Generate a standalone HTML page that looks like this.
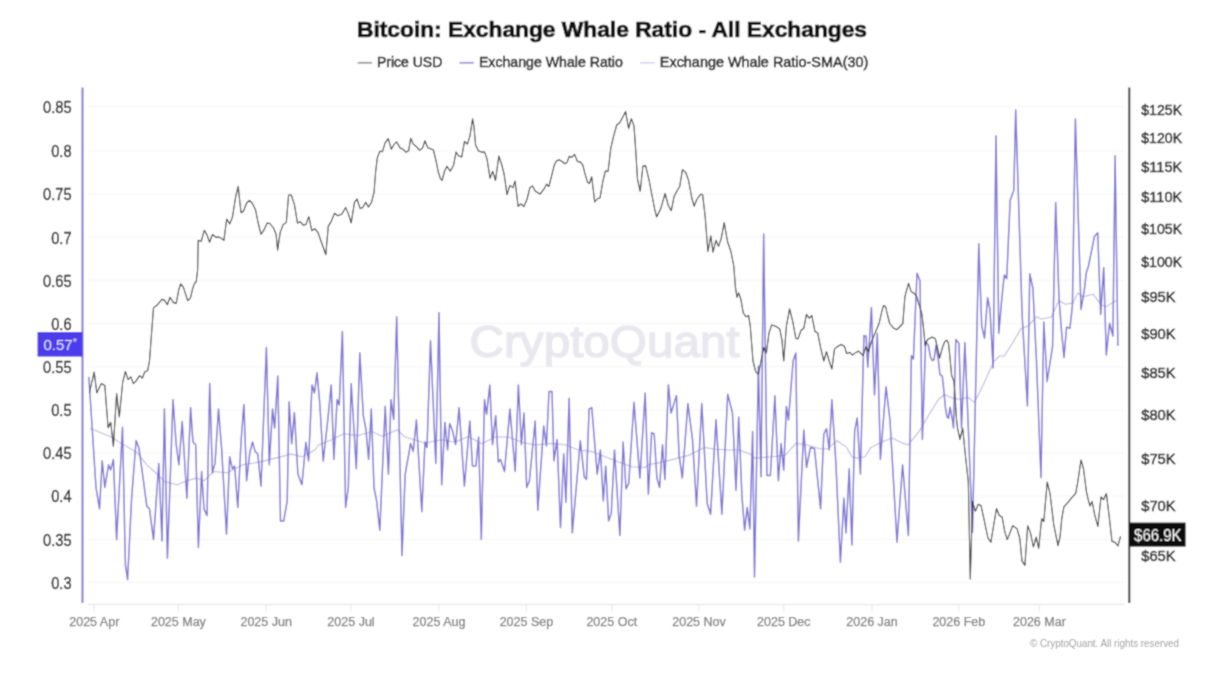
<!DOCTYPE html><html><head><meta charset="utf-8"><style>html,body{margin:0;padding:0;background:#fff;}svg{display:block}text{font-family:"Liberation Sans",Arial,sans-serif}</style></head><body>
<svg width="1226" height="673" viewBox="0 0 1226 673">
<defs><filter id="bl" x="0" y="0" width="100%" height="100%"><feConvolveMatrix order="3" kernelMatrix="1 2 1 2 8 2 1 2 1" divisor="20" edgeMode="duplicate"/></filter></defs><g filter="url(#bl)">
<rect x="0" y="0" width="1226" height="673" fill="#ffffff"/>
<text x="612" y="36.6" text-anchor="middle" font-size="21.5" font-weight="bold" fill="#111" stroke="#111" stroke-width="0.7" textLength="510" lengthAdjust="spacingAndGlyphs">Bitcoin: Exchange Whale Ratio - All Exchanges</text>
<line x1="357.7" y1="62.8" x2="372" y2="62.8" stroke="#999" stroke-width="1.8"/>
<text x="376.9" y="66.8" font-size="14" fill="#1e1e1e" stroke="#1e1e1e" stroke-width="0.5">Price USD</text>
<line x1="459.5" y1="62.8" x2="473.8" y2="62.8" stroke="#9F94E2" stroke-width="1.8"/>
<text x="478.9" y="66.8" font-size="14" fill="#1e1e1e" stroke="#1e1e1e" stroke-width="0.5" textLength="143.9" lengthAdjust="spacingAndGlyphs">Exchange Whale Ratio</text>
<line x1="640" y1="62.8" x2="654.4" y2="62.8" stroke="#D6D2F0" stroke-width="1.5"/>
<text x="659.8" y="66.8" font-size="14" fill="#1e1e1e" stroke="#1e1e1e" stroke-width="0.5" textLength="208.5" lengthAdjust="spacingAndGlyphs">Exchange Whale Ratio-SMA(30)</text>
<line x1="88" y1="106.6" x2="1124.5" y2="106.6" stroke="#F7F7F7" stroke-width="1.3"/>
<line x1="88" y1="150.8" x2="1124.5" y2="150.8" stroke="#F7F7F7" stroke-width="1.3"/>
<line x1="88" y1="194.0" x2="1124.5" y2="194.0" stroke="#F7F7F7" stroke-width="1.3"/>
<line x1="88" y1="237.2" x2="1124.5" y2="237.2" stroke="#F7F7F7" stroke-width="1.3"/>
<line x1="88" y1="280.3" x2="1124.5" y2="280.3" stroke="#F7F7F7" stroke-width="1.3"/>
<line x1="88" y1="323.5" x2="1124.5" y2="323.5" stroke="#F7F7F7" stroke-width="1.3"/>
<line x1="88" y1="366.6" x2="1124.5" y2="366.6" stroke="#F7F7F7" stroke-width="1.3"/>
<line x1="88" y1="409.8" x2="1124.5" y2="409.8" stroke="#F7F7F7" stroke-width="1.3"/>
<line x1="88" y1="452.9" x2="1124.5" y2="452.9" stroke="#F7F7F7" stroke-width="1.3"/>
<line x1="88" y1="496.1" x2="1124.5" y2="496.1" stroke="#F7F7F7" stroke-width="1.3"/>
<line x1="88" y1="539.3" x2="1124.5" y2="539.3" stroke="#F7F7F7" stroke-width="1.3"/>
<line x1="88" y1="582.4" x2="1124.5" y2="582.4" stroke="#F7F7F7" stroke-width="1.3"/>
<text x="469.6" y="356.9" font-size="45" fill="#E8E8EE" stroke="#E8E8EE" stroke-width="1.4" textLength="270" lengthAdjust="spacingAndGlyphs">CryptoQuant</text>
<line x1="88" y1="604.5" x2="1124.3" y2="604.5" stroke="#EAEAEA" stroke-width="1.4"/>
<line x1="94.3" y1="604.5" x2="94.3" y2="611.5" stroke="#EBEBEB" stroke-width="1.3"/>
<text x="94.3" y="626.4" text-anchor="middle" font-size="12.5" fill="#7a7a7a" stroke="#7a7a7a" stroke-width="0.25">2025 Apr</text>
<line x1="178.4" y1="604.5" x2="178.4" y2="611.5" stroke="#EBEBEB" stroke-width="1.3"/>
<text x="178.4" y="626.4" text-anchor="middle" font-size="12.5" fill="#7a7a7a" stroke="#7a7a7a" stroke-width="0.25">2025 May</text>
<line x1="266.2" y1="604.5" x2="266.2" y2="611.5" stroke="#EBEBEB" stroke-width="1.3"/>
<text x="266.2" y="626.4" text-anchor="middle" font-size="12.5" fill="#7a7a7a" stroke="#7a7a7a" stroke-width="0.25">2025 Jun</text>
<line x1="351" y1="604.5" x2="351" y2="611.5" stroke="#EBEBEB" stroke-width="1.3"/>
<text x="351" y="626.4" text-anchor="middle" font-size="12.5" fill="#7a7a7a" stroke="#7a7a7a" stroke-width="0.25">2025 Jul</text>
<line x1="439" y1="604.5" x2="439" y2="611.5" stroke="#EBEBEB" stroke-width="1.3"/>
<text x="439" y="626.4" text-anchor="middle" font-size="12.5" fill="#7a7a7a" stroke="#7a7a7a" stroke-width="0.25">2025 Aug</text>
<line x1="526.4" y1="604.5" x2="526.4" y2="611.5" stroke="#EBEBEB" stroke-width="1.3"/>
<text x="526.4" y="626.4" text-anchor="middle" font-size="12.5" fill="#7a7a7a" stroke="#7a7a7a" stroke-width="0.25">2025 Sep</text>
<line x1="611.8" y1="604.5" x2="611.8" y2="611.5" stroke="#EBEBEB" stroke-width="1.3"/>
<text x="611.8" y="626.4" text-anchor="middle" font-size="12.5" fill="#7a7a7a" stroke="#7a7a7a" stroke-width="0.25">2025 Oct</text>
<line x1="699" y1="604.5" x2="699" y2="611.5" stroke="#EBEBEB" stroke-width="1.3"/>
<text x="699" y="626.4" text-anchor="middle" font-size="12.5" fill="#7a7a7a" stroke="#7a7a7a" stroke-width="0.25">2025 Nov</text>
<line x1="783.8" y1="604.5" x2="783.8" y2="611.5" stroke="#EBEBEB" stroke-width="1.3"/>
<text x="783.8" y="626.4" text-anchor="middle" font-size="12.5" fill="#7a7a7a" stroke="#7a7a7a" stroke-width="0.25">2025 Dec</text>
<line x1="872" y1="604.5" x2="872" y2="611.5" stroke="#EBEBEB" stroke-width="1.3"/>
<text x="872" y="626.4" text-anchor="middle" font-size="12.5" fill="#7a7a7a" stroke="#7a7a7a" stroke-width="0.25">2026 Jan</text>
<line x1="958.8" y1="604.5" x2="958.8" y2="611.5" stroke="#EBEBEB" stroke-width="1.3"/>
<text x="958.8" y="626.4" text-anchor="middle" font-size="12.5" fill="#7a7a7a" stroke="#7a7a7a" stroke-width="0.25">2026 Feb</text>
<line x1="1039.4" y1="604.5" x2="1039.4" y2="611.5" stroke="#EBEBEB" stroke-width="1.3"/>
<text x="1039.4" y="626.4" text-anchor="middle" font-size="12.5" fill="#7a7a7a" stroke="#7a7a7a" stroke-width="0.25">2026 Mar</text>
<line x1="82.5" y1="87.5" x2="82.5" y2="603" stroke="#7A6EDC" stroke-width="1.9"/>
<line x1="1129.3" y1="87.5" x2="1129.3" y2="603" stroke="#262626" stroke-width="1.9"/>
<text x="71.6" y="112.9" text-anchor="end" font-size="15.8" fill="#222" stroke="#222" stroke-width="0.35" textLength="28.6" lengthAdjust="spacingAndGlyphs">0.85</text>
<text x="71.6" y="157.1" text-anchor="end" font-size="15.8" fill="#222" stroke="#222" stroke-width="0.35" textLength="20.4" lengthAdjust="spacingAndGlyphs">0.8</text>
<text x="71.6" y="200.3" text-anchor="end" font-size="15.8" fill="#222" stroke="#222" stroke-width="0.35" textLength="28.6" lengthAdjust="spacingAndGlyphs">0.75</text>
<text x="71.6" y="243.5" text-anchor="end" font-size="15.8" fill="#222" stroke="#222" stroke-width="0.35" textLength="20.4" lengthAdjust="spacingAndGlyphs">0.7</text>
<text x="71.6" y="286.6" text-anchor="end" font-size="15.8" fill="#222" stroke="#222" stroke-width="0.35" textLength="28.6" lengthAdjust="spacingAndGlyphs">0.65</text>
<text x="71.6" y="329.8" text-anchor="end" font-size="15.8" fill="#222" stroke="#222" stroke-width="0.35" textLength="20.4" lengthAdjust="spacingAndGlyphs">0.6</text>
<text x="71.6" y="372.9" text-anchor="end" font-size="15.8" fill="#222" stroke="#222" stroke-width="0.35" textLength="28.6" lengthAdjust="spacingAndGlyphs">0.55</text>
<text x="71.6" y="416.1" text-anchor="end" font-size="15.8" fill="#222" stroke="#222" stroke-width="0.35" textLength="20.4" lengthAdjust="spacingAndGlyphs">0.5</text>
<text x="71.6" y="459.2" text-anchor="end" font-size="15.8" fill="#222" stroke="#222" stroke-width="0.35" textLength="28.6" lengthAdjust="spacingAndGlyphs">0.45</text>
<text x="71.6" y="502.4" text-anchor="end" font-size="15.8" fill="#222" stroke="#222" stroke-width="0.35" textLength="20.4" lengthAdjust="spacingAndGlyphs">0.4</text>
<text x="71.6" y="545.6" text-anchor="end" font-size="15.8" fill="#222" stroke="#222" stroke-width="0.35" textLength="28.6" lengthAdjust="spacingAndGlyphs">0.35</text>
<text x="71.6" y="588.7" text-anchor="end" font-size="15.8" fill="#222" stroke="#222" stroke-width="0.35" textLength="20.4" lengthAdjust="spacingAndGlyphs">0.3</text>
<text x="1141.2" y="114.8" font-size="15" fill="#1e1e1e" stroke="#1e1e1e" stroke-width="0.45" textLength="41" lengthAdjust="spacingAndGlyphs">$125K</text>
<text x="1141.2" y="142.7" font-size="15" fill="#1e1e1e" stroke="#1e1e1e" stroke-width="0.45" textLength="41" lengthAdjust="spacingAndGlyphs">$120K</text>
<text x="1141.2" y="171.7" font-size="15" fill="#1e1e1e" stroke="#1e1e1e" stroke-width="0.45" textLength="41" lengthAdjust="spacingAndGlyphs">$115K</text>
<text x="1141.2" y="202.1" font-size="15" fill="#1e1e1e" stroke="#1e1e1e" stroke-width="0.45" textLength="41" lengthAdjust="spacingAndGlyphs">$110K</text>
<text x="1141.2" y="233.9" font-size="15" fill="#1e1e1e" stroke="#1e1e1e" stroke-width="0.45" textLength="41" lengthAdjust="spacingAndGlyphs">$105K</text>
<text x="1141.2" y="267.2" font-size="15" fill="#1e1e1e" stroke="#1e1e1e" stroke-width="0.45" textLength="41" lengthAdjust="spacingAndGlyphs">$100K</text>
<text x="1141.2" y="302.2" font-size="15" fill="#1e1e1e" stroke="#1e1e1e" stroke-width="0.45" textLength="34.5" lengthAdjust="spacingAndGlyphs">$95K</text>
<text x="1141.2" y="339.2" font-size="15" fill="#1e1e1e" stroke="#1e1e1e" stroke-width="0.45" textLength="34.5" lengthAdjust="spacingAndGlyphs">$90K</text>
<text x="1141.2" y="378.2" font-size="15" fill="#1e1e1e" stroke="#1e1e1e" stroke-width="0.45" textLength="34.5" lengthAdjust="spacingAndGlyphs">$85K</text>
<text x="1141.2" y="419.6" font-size="15" fill="#1e1e1e" stroke="#1e1e1e" stroke-width="0.45" textLength="34.5" lengthAdjust="spacingAndGlyphs">$80K</text>
<text x="1141.2" y="463.7" font-size="15" fill="#1e1e1e" stroke="#1e1e1e" stroke-width="0.45" textLength="34.5" lengthAdjust="spacingAndGlyphs">$75K</text>
<text x="1141.2" y="510.8" font-size="15" fill="#1e1e1e" stroke="#1e1e1e" stroke-width="0.45" textLength="34.5" lengthAdjust="spacingAndGlyphs">$70K</text>
<text x="1141.2" y="561.4" font-size="15" fill="#1e1e1e" stroke="#1e1e1e" stroke-width="0.45" textLength="34.5" lengthAdjust="spacingAndGlyphs">$65K</text>
<polyline points="89.9,428.2 110.7,436.7 121.4,443.4 137.4,452.8 146.8,464.8 158.8,475.5 164.2,481.6 177.5,484.8 186.9,480.8 196.2,478.1 204.0,480.8 213.7,471.5 227.1,472.8 243.1,464.8 259.1,462.1 275.2,458.1 291.2,454.1 301.9,456.8 315.0,450.0 318.4,445.0 331.7,439.7 343.7,433.8 358.4,435.6 371.8,431.4 382.5,436.4 397.2,429.7 405.0,437.0 425.0,443.0 441.7,439.7 455.1,442.3 468.4,436.4 481.8,443.7 495.2,437.0 508.5,437.0 521.9,442.3 535.0,445.0 551.7,443.4 565.1,444.7 578.4,450.0 591.8,451.4 605.2,456.8 618.5,462.1 631.9,466.7 645.0,467.5 648.4,464.8 661.7,462.1 675.1,458.9 688.4,455.4 704.5,447.4 715.2,449.3 728.5,450.0 739.2,450.0 749.9,454.1 755.0,458.1 771.7,456.8 785.1,455.4 795.8,443.4 806.5,444.7 819.8,448.7 827.8,448.7 837.2,440.7 846.6,447.4 851.9,456.8 857.2,458.1 865.0,456.8 871.0,447.4 881.7,442.0 892.4,438.0 903.1,443.4 908.4,444.7 919.1,431.4 930.6,412.0 938.4,399.5 944.6,394.5 952.4,398.0 960.2,399.5 968.0,397.2 974.5,402.4 984.0,383.3 993.6,361.9 999.5,356.0 1004.3,356.0 1012.6,342.9 1021.0,328.6 1028.1,326.2 1036.4,316.7 1041.2,319.0 1051.4,317.0 1059.0,300.5 1065.3,304.3 1072.9,303.1 1077.9,293.0 1083.0,296.7 1093.1,294.2 1100.7,304.3 1105.8,306.9 1115.9,300.5" fill="none" stroke="#BDB7E0" stroke-width="1.1" stroke-linejoin="round"/>
<polyline points="88.8,376.9 89.9,393.0 96.0,487.5 99.5,508.9 102.2,460.8 104.8,487.5 108.6,464.8 110.7,470.1 113.4,459.4 116.6,539.6 122.5,427.2 125.4,565.0 127.6,579.7 131.6,498.2 136.1,440.5 138.8,447.4 143.3,479.5 146.8,506.2 149.5,508.9 153.5,539.6 158.8,463.4 162.0,541.0 164.4,409.0 167.4,558.3 173.0,399.6 176.2,444.7 178.9,464.8 182.2,421.5 186.9,498.2 190.6,407.6 193.0,442.0 195.7,444.7 198.4,547.6 201.6,471.5 204.0,508.9 207.0,515.6 209.7,383.5 212.4,472.8 215.0,463.4 218.5,409.0 221.7,450.0 226.5,534.3 229.7,456.8 232.4,468.8 234.6,466.1 237.8,507.5 241.0,442.0 243.9,404.4 246.6,480.8 249.8,452.8 252.5,442.0 255.1,451.4 257.8,454.1 261.0,486.2 266.4,347.5 269.3,464.8 272.5,409.0 274.6,428.0 277.8,376.0 280.5,520.9 283.7,520.9 287.2,500.9 289.1,401.7 291.7,443.7 294.4,412.4 297.9,474.1 301.9,484.8 305.9,442.3 308.6,461.0 312.0,384.9 314.4,392.9 317.0,372.8 319.7,402.2 323.2,461.0 327.7,421.0 331.2,384.9 333.9,459.4 337.1,399.6 339.2,404.9 342.4,331.4 345.6,507.5 348.3,487.5 351.2,383.5 356.3,468.8 359.8,352.8 363.3,415.6 365.9,429.0 368.6,459.4 371.3,408.9 374.0,487.5 376.6,500.9 379.8,530.3 385.2,406.2 388.4,474.1 391.0,399.6 393.7,419.6 396.7,316.7 402.0,555.6 405.2,474.1 410.6,443.4 413.2,451.4 416.4,420.0 421.8,511.6 425.0,442.0 427.0,447.4 430.5,340.8 435.8,463.4 439.0,312.7 441.7,484.8 444.9,422.3 447.6,450.0 449.7,423.6 452.4,430.3 455.6,444.7 459.1,407.6 464.4,486.2 469.8,421.0 472.5,466.1 475.9,466.1 478.6,437.0 481.3,539.6 484.5,399.6 486.6,414.3 489.8,384.9 492.5,444.7 495.7,415.6 498.4,462.1 500.5,459.4 504.5,471.5 509.9,408.9 515.2,471.5 518.4,384.9 521.4,444.7 524.0,413.0 526.7,487.5 529.4,480.8 535.2,421.0 537.8,510.2 543.7,426.0 546.4,446.0 549.0,391.5 552.0,391.5 553.9,460.8 557.1,439.4 560.5,527.6 563.7,454.0 565.9,502.2 569.1,398.2 572.3,532.9 580.3,440.7 584.3,476.8 586.5,479.5 589.1,408.9 591.8,407.6 597.2,474.1 600.4,450.0 603.3,500.9 605.7,466.1 608.6,520.9 611.3,512.9 614.5,450.0 619.9,535.6 623.1,442.0 626.0,488.8 628.7,483.5 634.0,402.2 639.9,478.1 645.2,392.9 648.4,494.2 651.6,432.7 654.2,434.0 656.9,478.1 659.6,487.5 662.5,444.7 664.9,479.5 668.4,384.9 671.1,413.0 676.4,395.6 679.1,455.4 682.3,478.1 687.9,403.6 692.5,439.4 696.5,506.2 701.8,403.6 707.2,503.5 710.6,514.2 716.0,419.6 721.9,514.2 727.7,394.2 732.5,413.0 736.0,490.2 738.7,417.0 741.9,495.5 744.6,530.3 747.2,507.5 749.9,528.9 752.6,431.4 754.5,577.0 758.4,366.3 761.0,476.8 763.7,234.0 767.0,475.5 770.4,475.5 774.9,395.7 778.4,480.8 781.1,443.4 783.7,470.1 786.4,406.4 788.5,420.0 793.1,361.0 795.8,352.9 798.4,540.9 803.8,430.0 806.5,467.5 810.5,447.4 814.5,448.7 820.6,508.9 823.8,434.0 826.5,428.7 829.2,450.0 831.9,399.7 835.9,463.4 840.4,562.3 843.9,498.2 846.0,532.9 849.2,468.8 851.9,545.0 854.6,431.4 857.2,418.0 860.4,474.1 863.9,335.6 866.0,335.9 867.8,367.1 871.4,307.4 874.5,395.0 877.3,333.3 880.4,459.4 886.0,386.7 890.0,420.0 897.0,542.3 902.6,464.8 908.4,535.6 911.4,355.6 913.4,359.1 917.0,273.2 920.0,280.7 922.4,439.4 925.6,341.8 928.3,345.0 930.6,357.4 932.2,360.5 934.0,359.8 936.0,345.0 938.4,360.5 940.0,374.6 942.3,376.1 943.8,390.2 945.4,407.3 947.0,416.7 948.5,418.2 950.1,407.3 952.4,419.8 953.5,428.0 955.8,339.5 959.0,343.4 961.5,428.0 964.9,342.6 972.5,532.4 978.8,243.6 981.7,326.2 984.5,338.1 987.6,297.6 990.0,309.5 993.1,367.9 996.0,135.7 998.8,333.3 1001.9,297.6 1004.3,275.0 1006.7,278.6 1010.2,200.0 1013.8,190.5 1015.7,110.0 1022.1,314.3 1027.4,406.0 1029.8,273.8 1032.9,288.1 1036.4,359.5 1041.0,477.7 1043.8,322.0 1047.1,381.5 1052.6,346.1 1055.7,202.5 1059.0,298.0 1061.5,330.9 1064.0,357.5 1066.6,327.1 1069.9,328.4 1072.4,305.6 1075.4,119.0 1081.0,309.4 1084.3,290.4 1086.3,272.7 1088.5,266.0 1094.4,236.6 1097.7,232.8 1100.7,314.4 1103.7,267.6 1106.3,354.9 1109.6,323.3 1112.9,336.0 1115.1,155.7 1117.9,346.1" fill="none" stroke="#7B70D4" stroke-width="1.45" stroke-linejoin="round"/>
<polyline points="89.3,392.9 94.2,372.1 96.8,392.9 101.4,383.6 104.8,385.4 108.1,427.7 110.7,422.3 113.4,446.4 116.6,393.5 119.3,417.0 122.7,382.2 125.4,371.5 128.1,379.6 130.8,376.9 133.4,383.6 136.1,380.9 139.6,375.6 142.3,378.2 144.9,371.5 147.6,371.0 149.5,360.9 151.3,336.8 153.5,307.9 157.5,304.7 162.0,299.4 164.2,299.9 167.4,304.7 170.0,297.3 173.5,302.6 176.2,303.4 178.9,289.2 180.7,283.9 183.4,287.4 187.7,300.7 190.4,298.1 193.0,287.4 194.9,282.8 196.2,282.0 197.6,270.0 198.2,240.4 201.2,241.3 204.3,230.3 207.1,235.1 209.6,242.2 212.5,234.5 216.0,237.4 218.2,236.9 220.9,238.1 223.9,240.4 226.7,219.0 229.8,223.9 232.4,217.3 235.7,196.7 238.2,186.4 241.0,212.8 243.5,211.0 246.7,203.0 249.4,200.3 252.1,203.0 255.6,210.1 258.3,223.5 261.0,234.2 263.7,230.6 267.2,223.1 269.9,223.5 273.5,228.0 276.1,234.2 277.6,250.2 280.2,232.4 283.3,224.4 286.3,222.6 288.6,195.0 291.3,195.0 294.5,204.8 297.5,223.1 300.2,221.7 303.4,225.3 305.9,224.4 308.8,216.7 311.8,230.6 315.0,228.8 317.9,232.3 321.6,242.7 325.8,254.8 328.3,226.1 331.0,221.9 334.5,213.2 337.9,215.7 342.0,214.0 345.6,207.4 348.3,213.6 351.2,223.0 354.5,202.2 357.0,199.0 360.1,208.4 362.8,207.4 365.7,202.2 368.4,206.9 371.6,202.2 374.1,191.8 375.7,171.0 377.4,157.4 379.9,151.2 382.4,151.6 385.1,142.9 388.2,138.7 391.3,149.1 394.0,144.5 396.5,141.8 400.3,148.1 402.8,149.1 405.9,152.2 408.6,150.8 410.7,138.3 413.2,143.9 416.3,146.6 419.4,150.2 422.5,148.1 425.0,140.8 427.8,147.8 430.6,148.8 433.4,150.0 436.0,160.6 438.3,172.0 440.4,178.6 442.1,180.5 444.5,171.2 447.0,166.3 450.2,171.2 453.5,165.5 456.0,152.1 458.4,155.7 461.7,157.0 464.5,141.3 467.4,144.2 469.9,136.1 472.6,118.9 473.9,126.3 475.6,145.0 478.5,151.1 481.3,152.1 484.6,152.1 487.0,158.9 490.0,178.2 492.7,171.2 495.5,180.5 498.8,156.0 501.7,164.7 504.2,174.5 507.0,194.6 509.9,185.4 512.9,187.6 515.1,181.0 518.1,206.4 521.0,203.9 523.8,206.7 527.1,199.0 529.9,187.6 532.5,185.9 535.3,191.3 537.7,192.5 540.0,194.1 543.9,189.2 546.6,184.2 548.9,186.5 551.4,176.7 554.3,165.1 556.4,161.0 559.1,159.7 562.1,161.5 565.0,163.8 567.1,162.4 569.2,156.2 571.6,157.4 574.6,154.4 577.4,161.5 580.5,162.1 582.8,165.1 585.3,174.9 587.6,182.4 589.4,183.5 591.7,176.7 594.7,202.0 597.1,199.0 600.1,197.7 602.8,181.7 605.4,171.0 608.1,171.3 610.8,148.1 613.5,136.6 616.7,125.0 619.7,122.8 622.4,117.8 625.6,111.6 628.6,128.5 631.3,118.7 634.0,125.9 635.7,149.9 637.5,179.4 640.2,191.3 642.9,166.0 645.6,165.6 649.1,180.2 651.8,194.5 655.0,210.6 656.6,216.9 660.6,209.1 665.1,193.5 668.4,205.8 671.3,210.7 674.0,196.8 677.3,190.2 679.6,186.8 682.5,169.6 685.6,172.3 688.5,180.1 691.8,198.0 694.1,206.2 696.8,199.5 700.8,194.2 702.6,194.6 705.2,216.9 707.9,251.5 710.8,235.9 713.0,252.2 715.9,240.3 718.6,246.4 721.3,238.1 724.2,222.5 727.5,241.5 730.9,251.5 733.8,266.0 735.3,286.1 736.9,297.2 738.7,292.8 740.9,299.5 743.2,312.7 745.9,316.7 748.6,315.4 750.3,326.2 753.0,361.0 755.7,371.6 758.4,374.3 761.0,361.0 763.7,347.6 766.4,352.9 769.0,332.9 771.7,324.9 775.7,326.2 779.7,328.9 781.9,339.6 783.7,361.0 786.4,326.2 789.6,308.8 792.6,320.9 795.8,338.2 797.9,339.0 801.1,330.2 803.8,328.3 806.5,314.2 809.1,318.2 811.8,315.5 815.0,331.6 817.7,332.9 820.6,347.6 823.8,361.0 826.5,351.6 829.2,361.0 831.9,369.0 834.5,348.9 838.0,346.2 841.2,344.4 844.4,346.2 846.6,353.5 849.8,352.4 852.4,355.1 855.9,352.4 858.6,351.1 863.0,355.5 866.0,346.6 868.4,352.0 871.0,343.0 874.6,334.1 879.1,323.5 881.7,311.9 883.5,305.6 885.6,306.5 887.4,314.5 889.7,323.5 893.3,327.9 896.9,329.7 899.5,327.0 902.8,323.5 904.9,296.7 908.5,283.4 911.1,291.4 913.8,293.2 916.5,295.8 919.1,304.7 921.8,313.7 923.6,328.8 925.1,345.7 927.5,339.5 932.2,337.1 935.3,338.7 937.6,348.1 939.6,358.2 942.3,348.1 944.6,341.8 947.0,340.3 948.5,343.4 950.1,359.0 951.6,375.3 954.0,381.6 955.2,398.0 956.3,416.7 957.5,428.0 959.9,439.4 962.7,428.2 965.5,456.3 968.3,481.7 970.3,578.9 972.5,501.4 975.4,511.3 978.2,504.2 981.0,505.6 983.8,518.3 988.0,538.0 990.8,542.3 996.5,508.5 999.3,515.5 1002.1,516.9 1004.9,532.4 1007.3,539.6 1012.7,525.8 1017.0,528.6 1019.8,538.5 1022.0,561.1 1024.9,565.4 1027.7,525.8 1030.5,532.9 1033.4,547.0 1036.2,537.1 1038.7,548.4 1041.6,518.7 1043.8,521.6 1047.2,482.0 1050.0,493.3 1053.7,524.4 1058.0,545.6 1060.0,537.1 1061.8,518.4 1063.9,506.8 1068.0,502.3 1071.6,497.9 1075.7,493.4 1077.8,481.9 1081.0,460.0 1083.5,468.5 1086.4,491.7 1088.5,500.6 1089.9,505.9 1092.1,501.5 1094.7,514.8 1097.9,526.4 1101.0,497.0 1103.6,499.7 1106.3,493.4 1109.0,514.8 1112.0,541.5 1115.2,542.4 1117.9,546.0 1120.6,536.2" fill="none" stroke="#2b2b2b" stroke-width="1.1" stroke-linejoin="round"/>
<rect x="37.5" y="332" width="45" height="24.6" fill="#4B3DEB"/>
<text x="43.5" y="349.5" font-size="15" fill="#E6E3FF">0.57<tspan font-size="11" dy="-3.5">*</tspan></text>
<rect x="1129.5" y="522.6" width="56.1" height="24" fill="#0d0d0d"/>
<text x="1157.8" y="540.6" text-anchor="middle" font-size="16" fill="#ffffff" textLength="47.5" lengthAdjust="spacingAndGlyphs">$66.9K</text>
<text x="1030" y="646.7" font-size="10.5" fill="#9a9a9a" textLength="149" lengthAdjust="spacingAndGlyphs">© CryptoQuant. All rights reserved</text>
</g></svg></body></html>
